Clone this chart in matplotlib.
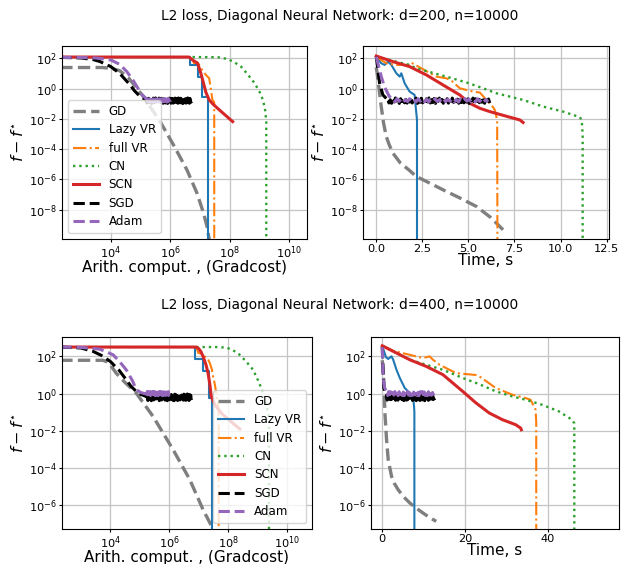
import numpy as np
import matplotlib
matplotlib.use("Agg")
import matplotlib.pyplot as plt
from matplotlib.ticker import NullLocator, FixedLocator, MultipleLocator

# ---------------- data (log10 of f - f*) ----------------
# d=200, gradcost axis (log10 x)
g200_gd_x = [2.3, 3.7, 4.0, 4.3, 4.6, 4.85, 5.1, 5.66, 6.11, 6.56, 6.9, 7.12, 7.25, 7.33]
g200_gd_y = [1.39, 1.39, 1.34, 1.18, 0.7, 0.08, -0.54, -2.18, -3.72, -5.36, -6.9, -8.22, -9.2, -10.2]
g200_sgd_x = [2.3, 3.0, 3.4, 3.64, 4.0, 4.3, 4.65, 4.8, 5.0, 5.2]
g200_sgd_y = [2.06, 2.02, 1.92, 1.78, 1.45, 1.0, 0.24, -0.15, -0.55, -0.75]
g200_sgd_plateau = (5.2, 6.72, -0.8)
g200_adam_x = [2.3, 3.0, 3.5, 4.0, 4.3, 4.54, 4.75, 4.88, 5.05, 5.22]
g200_adam_y = [2.06, 2.05, 2.02, 1.89, 1.6, 1.12, 0.55, 0.13, -0.4, -0.72]
g200_adam_plateau = (5.22, 6.0, -0.78)
g200_scn_x = [2.3, 6.63, 6.75, 6.92, 7.03, 7.12, 7.2, 7.31, 7.45, 7.59, 7.85, 8.1]
g200_scn_y = [2.08, 2.08, 1.89, 1.67, 1.01, 0.35, -0.25, -0.75, -1.05, -1.3, -1.75, -2.18]
g200_lazy_x = [2.3, 6.67, 6.67, 6.92, 6.92, 7.08, 7.08, 7.27, 7.27]
g200_lazy_y = [2.08, 2.08, 1.56, 1.56, 0.79, 0.79, -0.53, -0.53, -12]
g200_full_x = [2.3, 6.72, 6.8, 6.9, 6.97, 7.05, 7.2, 7.31, 7.37, 7.42, 7.48, 7.48]
g200_full_y = [2.08, 2.08, 1.67, 1.75, 1.56, 1.3, 0.9, 0.68, -0.09, -0.75, -0.9, -12]
g200_cn_x = [6.75, 7.6, 7.93, 8.15, 8.38, 8.6, 8.84, 9.0, 9.12, 9.2, 9.23, 9.23]
g200_cn_y = [2.08, 2.07, 1.95, 1.75, 1.45, 0.95, 0.35, -0.2, -0.75, -1.5, -2.2, -12]

# d=200, time axis (s)
t200_gd_x = [0, 0.05, 0.15, 0.27, 0.4, 0.54, 0.7, 0.9, 1.3, 1.8, 2.17, 3.0, 3.62, 4.5, 5.43, 6.2, 6.88]
t200_gd_y = [1.4, 1.0, 0.0, -1.19, -2.3, -3.16, -3.7, -4.26, -4.9, -5.4, -5.8, -6.3, -6.68, -7.2, -7.78, -8.5, -9.32]
t200_sgd_x = [0, 0.09, 0.18, 0.36, 0.62]
t200_sgd_y = [2.1, 1.23, 0.35, -0.42, -0.75]
t200_sgd_plateau = (0.62, 6.16, -0.8)
t200_adam_x = [0, 0.09, 0.27, 0.45, 0.7, 0.89]
t200_adam_y = [2.1, 1.67, 0.8, 0.1, -0.5, -0.72]
t200_adam_plateau = (0.89, 6.07, -0.78)
t200_scn_x = [0, 0.9, 1.81, 2.72, 3.62, 4.53, 5.07, 5.62, 6.16, 7.25, 7.79, 7.97]
t200_scn_y = [2.15, 1.78, 1.45, 0.9, 0.24, -0.42, -0.97, -1.3, -1.52, -1.89, -2.07, -2.24]
t200_lazy_x = [0, 0.27, 0.45, 0.63, 0.82, 1.09, 1.27, 1.36, 1.54, 1.81, 2.08, 2.14, 2.21, 2.21]
t200_lazy_y = [2.1, 1.67, 1.56, 1.78, 1.56, 1.01, 0.79, 1.01, 0.35, -0.2, -0.42, -1.19, -2.07, -12]
t200_full_x = [0, 0.54, 1.09, 1.81, 1.9, 2.5, 3.26, 3.8, 4.1, 4.53, 5.25, 5.62, 5.98, 6.25, 6.43, 6.56, 6.58]
t200_full_y = [2.1, 1.67, 1.56, 1.56, 1.71, 1.3, 0.79, 0.68, 0.5, 0.02, -0.2, -0.26, -0.75, -1.08, -1.4, -2.07, -12]
t200_cn_x = [0, 1.81, 2.17, 3.8, 4.9, 5.8, 6.52, 7.97, 9.06, 10.14, 11.05, 11.15, 11.2, 11.2]
t200_cn_y = [2.1, 1.56, 1.34, 0.79, 0.4, 0.02, -0.31, -0.75, -1.19, -1.52, -1.89, -2.1, -3.0, -12]

# d=400, gradcost axis (log10 x)
g400_gd_x = [2.3, 3.75, 3.9, 4.0, 4.2, 4.5, 4.88, 5.45, 6.13, 6.7, 7.15, 7.5, 7.6]
g400_gd_y = [1.79, 1.79, 1.7, 1.55, 1.1, 0.6, 0.03, -1.22, -3.0, -4.62, -6.23, -7.3, -7.6]
g400_sgd_x = [2.3, 3.0, 3.41, 3.7, 4.0, 4.3, 4.54, 4.7, 4.88, 5.05, 5.22]
g400_sgd_y = [2.5, 2.45, 2.27, 2.05, 1.73, 1.25, 0.75, 0.4, 0.12, -0.05, -0.15]
g400_sgd_plateau = (5.22, 6.75, -0.2)
g400_adam_x = [2.3, 3.0, 3.64, 4.09, 4.3, 4.54, 4.75, 4.88, 5.05, 5.22]
g400_adam_y = [2.5, 2.48, 2.39, 2.09, 1.75, 1.28, 0.7, 0.21, 0.05, -0.02]
g400_adam_plateau = (5.22, 6.02, 0.0)
g400_scn_x = [2.3, 6.92, 7.0, 7.08, 7.15, 7.25, 7.32, 7.38, 7.43, 7.55, 7.8, 8.1, 8.4]
g400_scn_y = [2.5, 2.5, 2.42, 2.25, 2.0, 1.55, 1.1, 0.5, -0.15, -0.6, -1.1, -1.5, -1.9]
g400_lazy_x = [2.3, 6.89, 6.89, 7.15, 7.15, 7.35, 7.35, 7.47, 7.47]
g400_lazy_y = [2.5, 2.5, 1.86, 1.86, 1.2, 1.2, -0.24, -0.24, -12]
g400_full_x = [2.3, 6.92, 6.99, 7.1, 7.2, 7.3, 7.38, 7.45, 7.49, 7.55, 7.58, 7.65, 7.68, 7.68]
g400_full_y = [2.5, 2.5, 2.18, 2.15, 2.0, 1.9, 1.64, 1.3, 0.93, 0.5, 0.2, -0.5, -1.0, -12]
g400_cn_x = [6.92, 7.6, 7.94, 8.15, 8.39, 8.6, 8.85, 9.05, 9.19, 9.3, 9.39, 9.39]
g400_cn_y = [2.5, 2.5, 2.47, 2.35, 2.09, 1.75, 1.28, 0.6, 0.03, -0.6, -1.3, -12]

# d=400, time axis (s)
t400_gd_x = [0, 0.2, 0.4, 0.64, 1.04, 1.44, 2.24, 3.0, 3.84, 5.2, 6.64, 8.2, 9.84, 11.4, 13.04]
t400_gd_y = [1.79, 1.3, 0.57, -1.04, -2.47, -3.55, -4.44, -4.85, -5.16, -5.55, -5.87, -6.15, -6.41, -6.65, -6.86]
t400_sgd_x = [0, 0.15, 0.4, 0.7, 1.04]
t400_sgd_y = [2.5, 1.5, 0.3, 0.0, -0.15]
t400_sgd_plateau = (1.04, 12.6, -0.2)
t400_adam_x = [0, 0.12, 0.24, 0.6, 1.04]
t400_adam_y = [2.5, 1.6, 0.75, 0.3, 0.1]
t400_adam_plateau = (1.04, 12.4, 0.0)
t400_scn_x = [0, 3.44, 6.64, 10.64, 14.64, 17.04, 19.44, 22.64, 25.84, 29.04, 32.24, 33.44, 33.6]
t400_scn_y = [2.57, 2.18, 1.82, 1.46, 1.02, 0.57, 0.12, -0.5, -1.04, -1.4, -1.67, -1.85, -1.94]
t400_lazy_x = [0, 0.4, 0.88, 1.44, 2.24, 2.64, 3.44, 4.24, 5.44, 6.64, 7.44, 7.68, 7.76, 7.76]
t400_lazy_y = [2.5, 2.3, 1.96, 1.86, 2.0, 1.82, 1.28, 0.84, 0.3, 0.03, -0.15, -0.68, -1.0, -12]
t400_full_x = [0, 2.64, 9.84, 11.44, 12.24, 13.84, 17.84, 22.64, 23.44, 27.44, 31.44, 34.64, 35.84, 37.04, 37.2, 37.2]
t400_full_y = [2.57, 2.3, 1.91, 2.0, 1.82, 1.55, 1.1, 1.0, 0.93, 0.3, -0.06, -0.24, -0.33, -0.86, -1.5, -12]
t400_cn_x = [0, 6.64, 10.64, 14.64, 19.44, 23.5, 27.44, 31.44, 34.64, 38.64, 42.64, 45.84, 46.4, 46.4]
t400_cn_y = [2.57, 1.82, 1.55, 1.28, 0.84, 0.5, 0.12, -0.15, -0.33, -0.6, -0.95, -1.4, -1.6, -12]

# stochastic fluctuation of the plateau (read as band width, log10 offsets)
sgd_jitter = [0.12, -0.15, 0.06, -0.17, 0.16, -0.08, 0.18, -0.12, 0.03, -0.18, 0.13, -0.05,
              0.17, -0.14, 0.08, -0.16, 0.18, -0.09, 0.05, -0.15, 0.14, -0.06, 0.17, -0.18,
              0.1, -0.11, 0.16, -0.14, 0.02, -0.17, 0.12, -0.08, 0.18, -0.15, 0.07, -0.12,
              0.15, -0.18, 0.11, -0.05, 0.17, -0.13, 0.08, -0.17, 0.15, -0.1, 0.13, -0.16,
              0.05, -0.18, 0.17, -0.11, 0.14, -0.07, 0.1, -0.17, 0.18, -0.12, 0.07, -0.14,
              0.16, -0.09, 0.12, -0.18, 0.04, -0.15, 0.17, -0.06, 0.13, -0.16, 0.09, -0.13,
              0.18, -0.1, 0.06, -0.17, 0.15, -0.12, 0.11, -0.15]
adam_jitter = [0.08, -0.1, 0.11, -0.06, 0.1, -0.11, 0.05, -0.08, 0.11, -0.09, 0.06, -0.11,
               0.1, -0.05, 0.11, -0.1, 0.08, -0.11, 0.09, -0.06, 0.11, -0.08, 0.05, -0.11,
               0.1, -0.09, 0.08, -0.06, 0.11, -0.1, 0.06, -0.11, 0.1, -0.08, 0.11, -0.05,
               0.09, -0.1, 0.07, -0.11, 0.1, -0.07, 0.11, -0.09, 0.06, -0.1]

titles = ["L2 loss, Diagonal Neural Network: d=200, n=10000",
          "L2 loss, Diagonal Neural Network: d=400, n=10000"]

# ---------------- styles ----------------
styles = {
    "GD": dict(color="tab:gray", ls="--", lw=2.4),
    "Lazy VR": dict(color="tab:blue", ls="-", lw=1.5),
    "full VR": dict(color="tab:orange", ls="-.", lw=1.5),
    "CN": dict(color="tab:green", ls=":", lw=1.7),
    "SCN": dict(color="tab:red", ls="-", lw=2.2),
    "SGD": dict(color="black", ls="--", lw=2.2),
    "Adam": dict(color="tab:purple", ls="--", lw=2.2),
}


def series(ns, key, logx):
    x = np.array(ns[key + "_x"], dtype=float)
    y = np.array(ns[key + "_y"], dtype=float)
    if key + "_plateau" in ns:
        jit = sgd_jitter if key.endswith("sgd") else adam_jitter
        x0, x1, level = ns[key + "_plateau"]
        px = np.linspace(x0, x1, len(jit))
        py = level + np.array(jit)
        x = np.concatenate([x, px])
        y = np.concatenate([y, py])
    if logx:
        x = 10 ** x
    return x, 10 ** y


ns = globals()
order = [("gd", "GD"), ("lazy", "Lazy VR"), ("full", "full VR"), ("cn", "CN"),
         ("scn", "SCN"), ("sgd", "SGD"), ("adam", "Adam")]

W, H = 621, 564
fig = plt.figure(figsize=(W / 100, H / 100), dpi=100)

panels = [
    ("g200", True, [62, 46, 307, 239], (10 ** 2.36, 10 ** 10.6), (10 ** -9.93, 10 ** 2.81), "lower left", None),
    ("t200", False, [363, 46, 609, 239], (-0.72, 12.63), (10 ** -9.93, 10 ** 2.81), None, 2.5),
    ("g400", True, [62, 337, 312, 529], (10 ** 2.36, 10 ** 10.85), (10 ** -7.27, 10 ** 3.04), "lower right", None),
    ("t400", False, [371, 337, 619, 529], (-2.72, 57.2), (10 ** -7.27, 10 ** 3.04), None, 20),
]

TICK = 8.2
LABEL = 11.0
for pre, logx, (l, t, r, b), xl, yl, legloc, step in panels:
    ax = fig.add_axes([l / W, 1 - b / H, (r - l) / W, (b - t) / H])
    for k, name in order:
        x, y = series(ns, pre + "_" + k, logx)
        ax.plot(x, y, label=name, **styles[name])
    ax.set_yscale("log")
    if logx:
        ax.set_xscale("log")
        ax.xaxis.set_major_locator(FixedLocator([1e4, 1e6, 1e8, 1e10]))
        ax.xaxis.set_minor_locator(NullLocator())
        ax.set_xlabel("Arith. comput. , (Gradcost)", fontsize=LABEL, labelpad=-0.5)
    else:
        ax.xaxis.set_major_locator(MultipleLocator(step))
        ax.set_xlabel("Time, s", fontsize=LABEL, labelpad=-0.5)
    ax.set_xlim(*xl)
    ax.set_ylim(*yl)
    if pre.endswith("200"):
        ax.yaxis.set_major_locator(FixedLocator([1e2, 1e0, 1e-2, 1e-4, 1e-6, 1e-8]))
    else:
        ax.yaxis.set_major_locator(FixedLocator([1e2, 1e0, 1e-2, 1e-4, 1e-6]))
    ax.yaxis.set_minor_locator(NullLocator())
    ax.tick_params(labelsize=TICK, length=2.2, pad=1.5)
    ax.grid(True, color="#c4c4c4", lw=0.9)
    ax.set_axisbelow(True)
    ax.set_ylabel(r"$f - f^{\star}$", fontsize=LABEL + 0.5, labelpad=1.5)
    if legloc:
        ax.legend(loc=legloc, fontsize=8.6, handlelength=2.2, labelspacing=0.45,
                  borderpad=0.4, handletextpad=0.8)

fig.text(340 / W, 1 - 16 / H, titles[0], ha="center", va="center", fontsize=9.9)
fig.text(340 / W, 1 - 305 / H, titles[1], ha="center", va="center", fontsize=9.9)

fig.savefig("out.png", dpi=100)
